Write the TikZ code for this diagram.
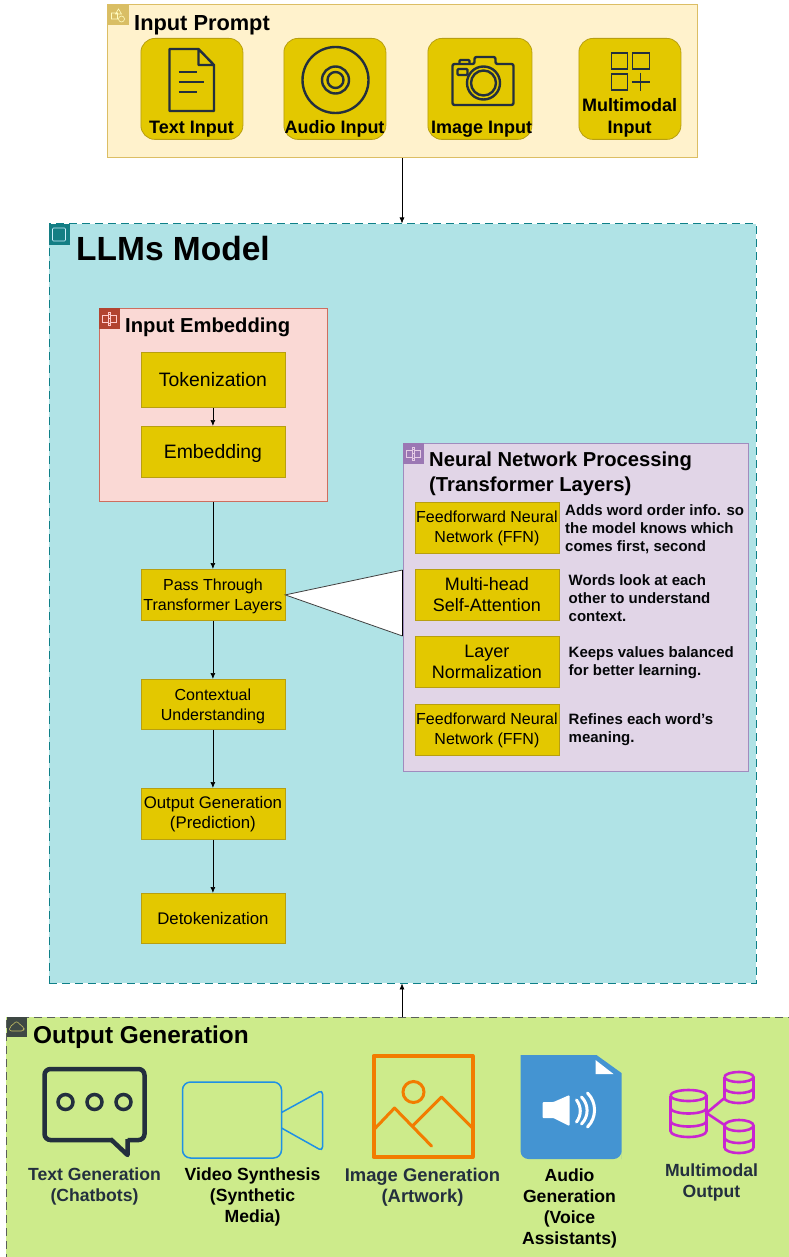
\documentclass[tikz,border=0pt]{standalone}
\usepackage{fontspec}
\setmainfont{Liberation Sans}
\usetikzlibrary{arrows.meta,calc}
\definecolor{inkdark}{HTML}{232F3E}
\definecolor{gold}{HTML}{E3C800}
\definecolor{goldline}{HTML}{B89F10}
\definecolor{magenta1}{HTML}{C925D1}
\definecolor{orange1}{HTML}{F27C00}
\definecolor{blue1}{HTML}{1E90E6}
\definecolor{docblue}{HTML}{4494D2}
\newcommand{\fs}[2]{\fontsize{#1pt}{#2pt}\selectfont}
\newcommand{\dn}{\rule{0pt}{15.5pt}}
\tikzset{
  x=1pt,y=-1pt,
  goldbox/.style={draw=goldline,fill=gold,line width=.8pt,inner sep=0pt,anchor=north west,text=black,align=center},
  flowbox/.style={goldbox,font=\fs{16}{20}},
  flowmid/.style={goldbox,font=\fs{16.8}{20.5}},
  fbig/.style={goldbox,font=\fs{18}{21}},
  ftall/.style={goldbox,font=\fs{19.4}{22}},
  inbox/.style={goldbox,rounded corners=14pt},
  inlabel/.style={font=\bfseries\fs{18}{22},align=center,inner sep=0pt,text=black},
  grouptitle/.style={font=\bfseries,anchor=west,inner sep=0pt,align=left,text=black},
  desc/.style={font=\bfseries\fs{15}{18.2},anchor=north west,inner sep=0pt,align=left,text=black!85!inkdark},
  outlabel/.style={font=\bfseries\fs{17.6}{21},anchor=north,align=center,inner sep=0pt},
  conn/.style={draw=black,line width=.7pt,-{Latex[length=6pt,width=5pt]}},
  iconline/.style={draw=inkdark,line width=2.4pt,line join=round,fill=none},
}
\newcommand{\boxat}[7]{\node[#1,minimum width=#4pt,minimum height=#5pt] (#2) at (#3) {#7};}
\begin{document}
\begin{tikzpicture}
\useasboundingbox (0.5,0) rectangle (788.5,1257);
% groups
\node[fill={rgb,255:red,255;green,242;blue,204},draw={rgb,255:red,220;green,190;blue,100},line width=1pt,inner sep=0pt,anchor=north west,minimum width=590pt,minimum height=153pt] (prompt) at (107,4) {};
\node[draw={rgb,255:red,14;green,128;blue,136},dashed,dash pattern=on 8pt off 5pt,fill={rgb,255:red,176;green,227;blue,230},line width=.9pt,inner sep=0pt,anchor=north west,minimum width=707pt,minimum height=759pt] (llm) at (49,223.5) {};
\node[draw={rgb,255:red,90;green,95;blue,90},dashed,dash pattern=on 8pt off 5pt,fill={rgb,255:red,205;green,235;blue,139},line width=.9pt,inner sep=0pt,anchor=north west,minimum width=790pt,minimum height=250pt] (out) at (6.5,1016.5) {};
\node[draw={rgb,255:red,205;green,110;blue,95},fill={rgb,255:red,250;green,217;blue,213},line width=1pt,inner sep=0pt,anchor=north west,minimum width=228pt,minimum height=193pt] (emb) at (99,308) {};
\node[draw={rgb,255:red,160;green,140;blue,190},fill={rgb,255:red,225;green,213;blue,231},line width=1pt,inner sep=0pt,anchor=north west,minimum width=345pt,minimum height=328pt] (nn) at (403,443) {};
% group badges
\fill[fill={rgb,255:red,217;green,190;blue,100}] (108,5) rectangle (129,25);
\draw[white!75!yellow,line width=.6pt] (112,13) rectangle (118,19) (119,9) -- (122,14) -- (116,14) -- cycle (122,19) circle (3);
\fill[fill={rgb,255:red,20;green,126;blue,132}] (49,224) rectangle (70,245);
\draw[white!80!cyan,line width=.6pt,rounded corners=1pt] (53,228) rectangle (66,241);
\fill[fill={rgb,255:red,178;green,68;blue,48}] (99,308) rectangle (120,329);
\draw[white!80!red,line width=.6pt] (103,315) rectangle (109,322) (111,315) rectangle (117,322) (109,318) -- (111,318) (109,312) rectangle (111,314) (109,323) rectangle (111,325);
\fill[fill={rgb,255:red,155;green,120;blue,180}] (403,443) rectangle (424,464);
\draw[white!80!violet,line width=.6pt] (407,450) rectangle (413,457) (415,450) rectangle (421,457) (413,453) -- (415,453) (413,447) rectangle (415,449) (413,458) rectangle (415,460);
\fill[fill={rgb,255:red,62;green,72;blue,68}] (7,1017) rectangle (27,1037);
\draw[white!50!olive,line width=.6pt,rounded corners=2pt] (10,1031) -- (10,1027) -- (13,1025) -- (17,1021) -- (21,1025) -- (25,1028) -- (24,1031) -- cycle;
% titles
\node[grouptitle,font=\bfseries\fs{21.8}{25}] (tprompt) at (134.5,25) {Input Prompt};
\node[grouptitle,font=\bfseries\fs{33.5}{38}] (tllm) at (76.5,249) {LLMs Model};
\node[grouptitle,font=\bfseries\fs{20.2}{24}] (temb) at (125.5,327) {Input Embedding};
\node[grouptitle,font=\bfseries\fs{20.2}{24.5},anchor=north west] (tnn) at (429.5,452) {Neural Network Processing\\(Transformer Layers)};
\node[grouptitle,font=\bfseries\fs{24.4}{28}] (tout) at (33.5,1037) {Output Generation};
% input boxes
\boxat{inbox}{b1}{141,38}{102}{101}{}{}
\boxat{inbox}{b2}{284,38}{102}{101}{}{}
\boxat{inbox}{b3}{428,38}{104}{101}{}{}
\boxat{inbox}{b4}{579,38}{102}{101}{}{}
\node[inlabel] (l1) at (192,129) {Text Input};
\node[inlabel] (l2) at (335,129) {Audio Input};
\node[inlabel] (l3) at (482,129) {Image Input};
\node[inlabel] (l4) at (630,118) {Multimodal\\Input};
% input icons
\draw[iconline] (170,49) -- (199,49) -- (214.5,65) -- (214.5,111) -- (170,111) -- cycle (199,49) -- (199,65) -- (214.5,65);
\draw[iconline] (179,72) -- (197,72) (179,82) -- (204,82) (179,92) -- (197,92);
\draw[iconline] (336,80) circle (33) (336,80) circle (13.5) (336,80) circle (8);
\draw[iconline,rounded corners=2pt] (453,64) -- (475,64) -- (475,57) -- (496,57) -- (496,64) -- (514,64) -- (514,105) -- (453,105) -- cycle;
\draw[iconline,rounded corners=1pt] (460,64) -- (460,60) -- (470,60) -- (470,64) (458,69) rectangle (468,75);
\draw[iconline] (484,83) circle (16.5) (484,83) circle (12.5);
\draw[draw=inkdark,line width=1.6pt] (612,53) rectangle (628,69) (633,53) rectangle (650,69) (612,74) rectangle (628,90) (632,82) -- (650,82) (641,73) -- (641,91);
% main flow
\boxat{ftall}{tok}{141,352}{144}{55}{}{Tokenization}
\boxat{ftall}{ebd}{141,426}{144}{51}{}{\rule{0pt}{18pt}Embedding}
\boxat{flowbox}{pas}{141,569}{144}{51}{}{\dn Pass Through\\Transformer Layers}
\boxat{flowbox}{ctx}{141,679}{144}{50}{}{\dn Contextual\\Understanding}
\boxat{flowmid}{gen}{141,788}{144}{51}{}{Output Generation\\(Prediction)}
\boxat{flowmid}{det}{141,893}{144}{50}{}{Detokenization}
\draw[conn] (prompt.south) -- (prompt.south |- llm.north);
\draw[conn] (tok) -- (ebd);
\draw[conn] (emb.south -| pas.north) -- (pas);
\draw[conn] (pas) -- (ctx);
\draw[conn] (ctx) -- (gen);
\draw[conn] (gen) -- (det);
\draw[conn] (prompt.south |- out.north) -- (prompt.south |- llm.south);
% callout
\coordinate (ca) at (403,570);
\coordinate (cb) at (403,636);
\fill[white] (pas.east) -- (ca) -- (cb) -- cycle;
\draw[draw=black!75,line width=.8pt] (ca) -- (pas.east) -- (cb);
\draw[draw=black,line width=1pt] (ca) -- (cb);
% nn rows
\boxat{flowbox}{n1}{415,502}{144}{51}{}{Feedforward Neural\\Network (FFN)}
\boxat{fbig}{n2}{415,569}{144}{51}{}{Multi-head\\Self-Attention}
\boxat{fbig}{n3}{415,636}{144}{51}{}{Layer\\Normalization}
\boxat{flowbox}{n4}{415,704}{144}{51}{}{Feedforward Neural\\Network (FFN)}
\node[desc] (d1) at (565.5,504.5) {Adds word order info. so\\the model knows which\\comes first, second};
\node[desc] (d2) at (569,574.5) {Words look at each\\other to understand\\context.};
\node[desc] (d3) at (569,646.5) {Keeps values balanced\\for better learning.};
\node[desc] (d4) at (569,713.5) {Refines each word's\\meaning.};
% output icons
\draw[draw=inkdark,line width=4.5pt,rounded corners=6pt] (128,1140) -- (145,1140) -- (145,1069) -- (45,1069) -- (45,1140) -- (112,1140);
\draw[draw=inkdark,line width=4.5pt,line join=round] (111,1139) -- (128,1155) -- (128,1139);
\draw[draw=inkdark,line width=3.5pt] (66,1102) circle (7.5) (95,1102) circle (7.5) (124,1102) circle (7.5);
\draw[draw=blue1,line width=1.5pt,rounded corners=8pt] (183,1082) rectangle (282,1158);
\draw[draw=blue1,line width=1.5pt,rounded corners=4pt] (282,1112.5) -- (323,1090) -- (323,1151) -- (282,1128);
\draw[draw=orange1,line width=4pt,line join=round] (374,1056) rectangle (473,1157);
\draw[draw=orange1,line width=3pt] (414,1092) circle (10.5);
\draw[draw=orange1,line width=3pt,line cap=round,line join=round] (374,1130) -- (395,1108) -- (432,1146) (413,1126) -- (442,1097) -- (473,1128);
\fill[docblue,rounded corners=8pt] (521,1055) -- (521,1159) -- (622,1159) [sharp corners] -- (622,1159) -- (622,1073) -- (597,1055) -- cycle;
\fill[white] (596,1060) -- (596,1074) -- (614,1074) -- cycle;
\fill[white,rounded corners=1pt] (543,1102) -- (554,1102) -- (570,1095) -- (570,1126) -- (554,1118) -- (543,1118) -- cycle;
\draw[white,line width=3pt,line cap=round] (577,1100) to[bend left=36] (577,1122) (582,1097) to[bend left=45] (582,1124) (588,1093) to[bend left=45] (588,1127);
\begin{scope}[draw=magenta1,line width=2.6pt]
\draw (671,1095.5) arc[start angle=180,end angle=-180,x radius=18,y radius=5.5];
\draw (671,1095.5) -- (671,1131) arc[start angle=180,end angle=0,x radius=18,y radius=6] -- (707,1095.5);
\draw (671,1108) arc[start angle=180,end angle=0,x radius=18,y radius=5.5] (671,1121) arc[start angle=180,end angle=0,x radius=18,y radius=5.5];
\draw (725,1077) arc[start angle=180,end angle=-180,x radius=14.5,y radius=5];
\draw (725,1077) -- (725,1098) arc[start angle=180,end angle=0,x radius=14.5,y radius=5] -- (754,1077);
\draw (725,1088) arc[start angle=180,end angle=0,x radius=14.5,y radius=5];
\draw (725,1125.5) arc[start angle=180,end angle=-180,x radius=14.5,y radius=5.5];
\draw (725,1125.5) -- (725,1147.5) arc[start angle=180,end angle=0,x radius=14.5,y radius=5.5] -- (754,1125.5);
\draw (725,1137.5) arc[start angle=180,end angle=0,x radius=14.5,y radius=5.5];
\draw (725,1098) -- (707,1113) -- (725,1125);
\end{scope}
% output labels
\node[outlabel,text=inkdark] (o1) at (95,1168) {Text Generation\\(Chatbots)};
\node[outlabel,text=black] (o2) at (253,1168) {Video Synthesis\\(Synthetic\\Media)};
\node[outlabel,text=inkdark,font=\bfseries\fs{18.4}{21}] (o3) at (423,1168) {Image Generation\\(Artwork)};
\node[outlabel,text=black] (o4) at (570,1169) {Audio\\Generation\\(Voice\\Assistants)};
\node[outlabel,text=inkdark] (o5) at (712,1164) {Multimodal\\Output};
\end{tikzpicture}
\end{document}
